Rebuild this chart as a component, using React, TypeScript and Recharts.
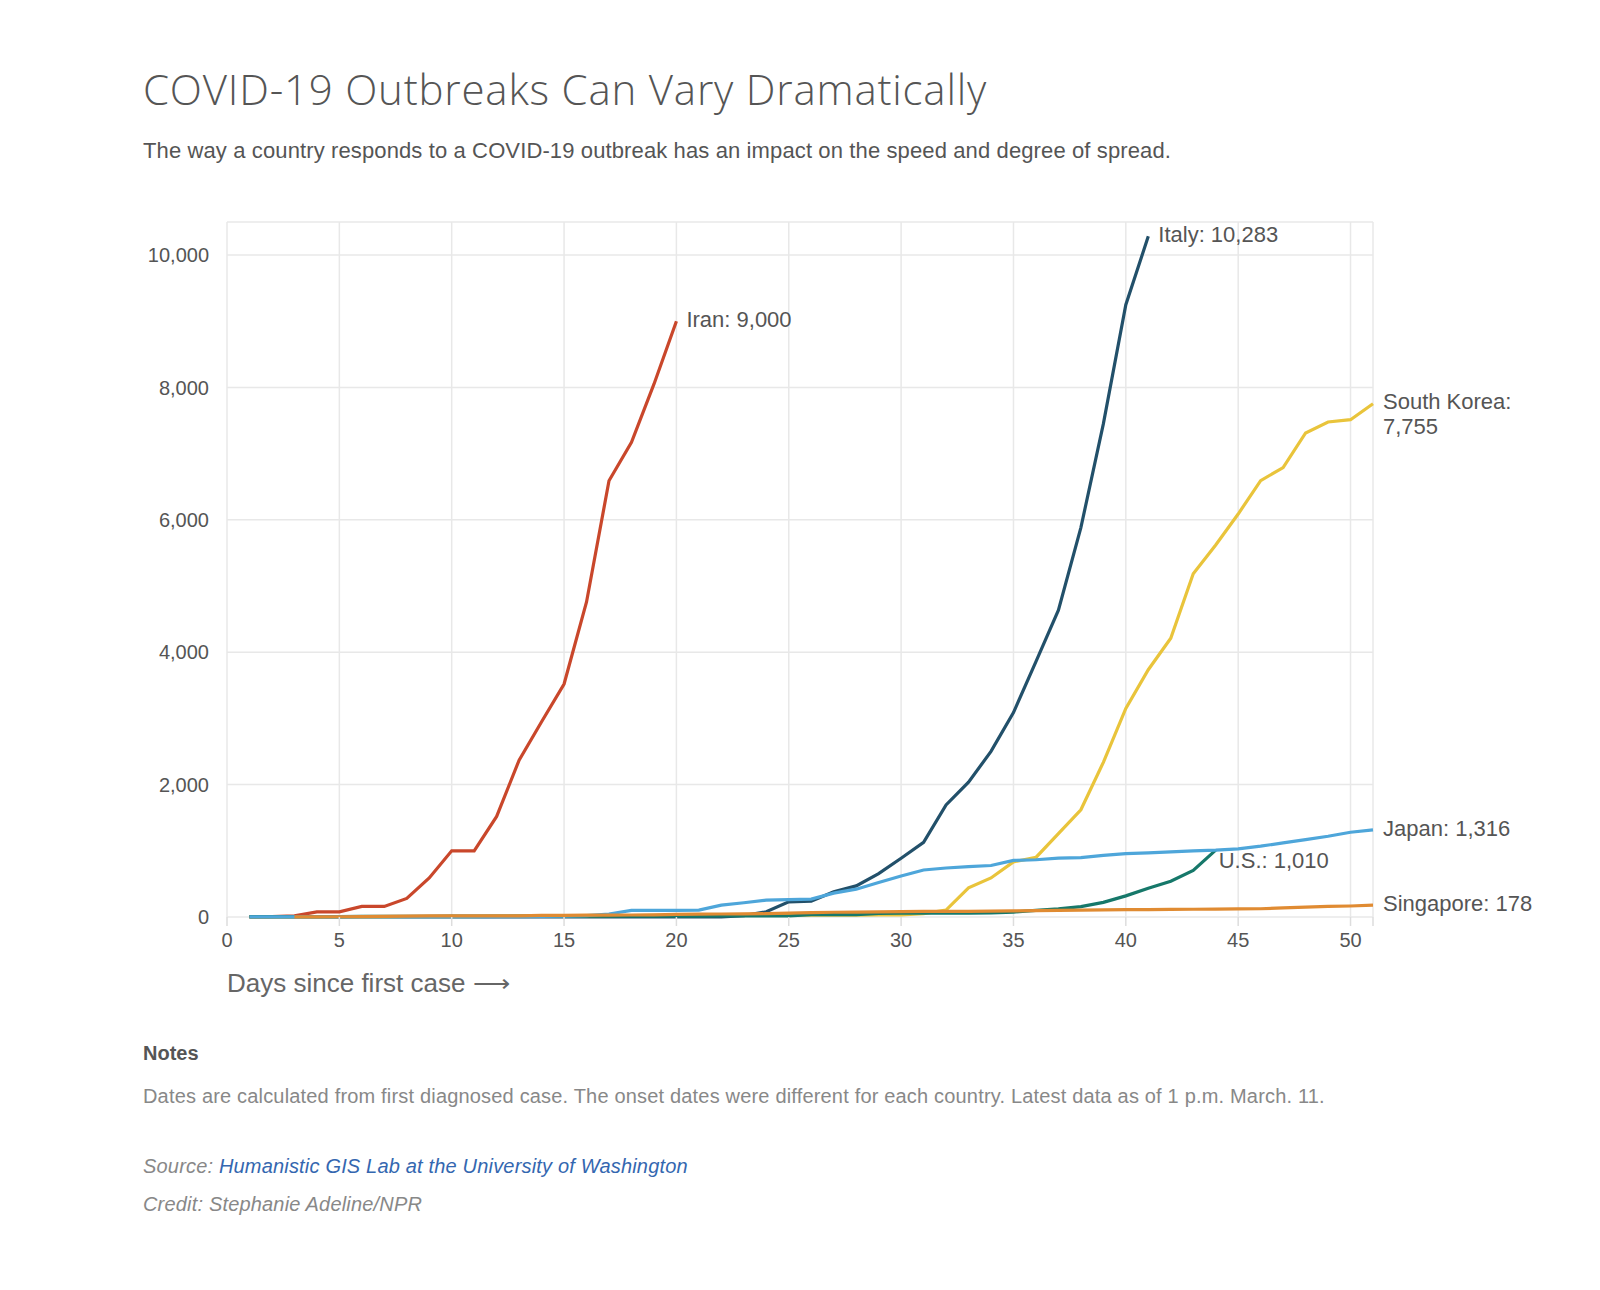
import React from "react";
import { LineChart, Line, XAxis, YAxis, CartesianGrid } from "recharts";

// day numbers since first case
const days = [
  1, 2, 3, 4, 5, 6, 7, 8, 9, 10, 11, 12, 13, 14, 15, 16, 17, 18, 19, 20, 21, 22, 23, 24, 25,
  26, 27, 28, 29, 30, 31, 32, 33, 34, 35, 36, 37, 38, 39, 40, 41, 42, 43, 44, 45, 46, 47, 48,
  49, 50, 51,
];

// cumulative cases, starting at day 1 (Singapore starts at day 3)
const iran = [2, 5, 18, 77, 77, 160, 160, 280, 590, 1000, 1000, 1520, 2370, 2950, 3520, 4760, 6590, 7170, 8050, 9000];
const italy = [
  2, 2, 2, 2, 2, 2, 2, 3, 3, 3, 3, 3, 3, 3, 3, 3, 3, 3, 3, 3, 3, 3, 20, 79, 229, 240, 380, 470,
  655, 888, 1128, 1694, 2036, 2502, 3089, 3858, 4636, 5883, 7450, 9250, 10283,
];
const southKorea = [
  1, 1, 1, 1, 2, 2, 3, 4, 4, 4, 6, 11, 12, 15, 15, 16, 19, 23, 24, 24, 25, 27, 28, 28, 28, 28,
  28, 29, 30, 31, 51, 104, 440, 590, 833, 900, 1261, 1620, 2337, 3150, 3736, 4212, 5186, 5621,
  6088, 6593, 6790, 7313, 7478, 7513, 7755,
];
const japan = [
  1, 1, 1, 1, 1, 1, 1, 1, 1, 2, 3, 4, 6, 8, 12, 20, 45, 100, 100, 100, 105, 180, 215, 255, 262,
  270, 360, 420, 520, 620, 710, 740, 760, 778, 855, 865, 890, 898, 930, 958, 970, 985, 998,
  1010, 1030, 1070, 1120, 1170, 1220, 1280, 1316,
];
const us = [
  5, 5, 5, 5, 6, 8, 11, 11, 11, 12, 12, 12, 12, 12, 13, 13, 13, 13, 13, 14, 14, 15, 15, 15, 15,
  35, 35, 35, 53, 57, 59, 60, 60, 62, 75, 100, 124, 158, 221, 319, 435, 541, 704, 1010,
];
const singapore = [
  null, null, 1, 3, 4, 7, 10, 13, 16, 18, 18, 18, 18, 24, 24, 28, 28, 30, 33, 40, 43, 45, 47,
  50, 58, 67, 72, 75, 77, 81, 84, 85, 86, 89, 93, 96, 100, 104, 108, 110, 112, 115, 117, 120,
  122, 125, 138, 150, 160, 166, 178,
];

const xTicks = [0, 5, 10, 15, 20, 25, 30, 35, 40, 45, 50, 51];
const yTicks = [0, 2000, 4000, 6000, 8000, 10000];

const data = days.map((d, i) => ({
  day: d,
  iran: iran[i] ?? null,
  italy: italy[i] ?? null,
  korea: southKorea[i] ?? null,
  japan: japan[i] ?? null,
  us: us[i] ?? null,
  singapore: singapore[i] ?? null,
}));

const fmt = (n: number) => n.toLocaleString("en-US");

const labelFont = "'Liberation Sans', Arial, sans-serif";

// draws the series name next to its last point
const endLabel =
  (lastIndex: number, lines: string[], dx: number, dy: number) => (props: any) => {
    if (props.index !== lastIndex) return <g key={props.index} />;
    return (
      <text
        key={props.index}
        x={props.x + dx}
        y={props.y + dy}
        fill="#555"
        fontSize={22}
        fontFamily={labelFont}
        dominantBaseline="middle"
      >
        {lines.map((t, k) => (
          <tspan key={k} x={props.x + dx} dy={k === 0 ? 0 : 25}>
            {t}
          </tspan>
        ))}
      </text>
    );
  };

const XTick = (props: any) => {
  const { x, y, payload } = props;
  if (payload.value === 51) return <g />;
  return (
    <text x={x} y={y} dy={15} textAnchor="middle" fill="#555" fontSize={20} fontFamily={labelFont}>
      {payload.value}
    </text>
  );
};

const small = { fontSize: 20, lineHeight: 1, letterSpacing: 0.18 };

export default function App() {
  return (
    <div
      style={{
        position: "relative",
        width: 1600,
        height: 1290,
        marginLeft: -8,
        marginTop: -8,
        background: "#fff",
        fontFamily: labelFont,
      }}
    >
      <div
        style={{
          position: "absolute",
          left: 143,
          top: 68,
          fontSize: 42,
          lineHeight: 1,
          letterSpacing: 0.8,
          color: "#555",
          fontFamily: "'Open Sans', sans-serif",
          fontWeight: 300,
        }}
      >
        COVID-19 Outbreaks Can Vary Dramatically
      </div>
      <div
        style={{
          position: "absolute",
          left: 143,
          top: 140,
          fontSize: 22,
          lineHeight: 1,
          letterSpacing: 0.12,
          color: "#555",
        }}
      >
        The way a country responds to a COVID-19 outbreak has an impact on the speed and degree of spread.
      </div>

      <div style={{ position: "absolute", left: 0, top: 0 }}>
        <LineChart
          width={1600}
          height={1000}
          data={data}
          margin={{ top: 222, right: 227, left: 147, bottom: 43 }}
        >
          <CartesianGrid stroke="#e8e8e8" strokeWidth={1.5} />
          <XAxis
            dataKey="day"
            type="number"
            domain={[0, 51]}
            ticks={xTicks}
            interval={0}
            axisLine={false}
            tickLine={{ stroke: "#ddd", strokeWidth: 1.5 }}
            tickSize={9}
            tickMargin={6}
            tick={<XTick />}
            height={40}
          />
          <YAxis
            type="number"
            domain={[0, 10500]}
            ticks={yTicks}
            interval={0}
            axisLine={false}
            tickLine={false}
            tickSize={8}
            tickMargin={10}
            tickFormatter={fmt}
            tick={{ fill: "#555", fontSize: 20, fontFamily: labelFont }}
            width={80}
          />
          <Line
            dataKey="iran"
            stroke="#c9472b"
            strokeWidth={3.2}
            dot={false}
            isAnimationActive={false}
            label={endLabel(iran.length - 1, ["Iran: " + fmt(9000)], 10, 0)}
          />
          <Line
            dataKey="italy"
            stroke="#22506a"
            strokeWidth={3.2}
            dot={false}
            isAnimationActive={false}
            label={endLabel(italy.length - 1, ["Italy: " + fmt(10283)], 10, 0)}
          />
          <Line
            dataKey="korea"
            stroke="#e9c43b"
            strokeWidth={3.2}
            dot={false}
            isAnimationActive={false}
            label={endLabel(southKorea.length - 1, ["South Korea:", fmt(7755)], 10, -1)}
          />
          <Line
            dataKey="us"
            stroke="#16786a"
            strokeWidth={3.2}
            dot={false}
            isAnimationActive={false}
            label={endLabel(us.length - 1, ["U.S.: " + fmt(1010)], 3, 12)}
          />
          <Line
            dataKey="japan"
            stroke="#4ea6da"
            strokeWidth={3.2}
            dot={false}
            isAnimationActive={false}
            label={endLabel(japan.length - 1, ["Japan: " + fmt(1316)], 10, 0)}
          />
          <Line
            dataKey="singapore"
            stroke="#e08b32"
            strokeWidth={3.2}
            dot={false}
            isAnimationActive={false}
            label={endLabel(singapore.length - 1, ["Singapore: " + fmt(178)], 10, 0)}
          />
        </LineChart>
      </div>

      <div style={{ position: "absolute", left: 227, top: 970, fontSize: 26, lineHeight: 1, color: "#666" }}>
        Days since first case ⟶
      </div>

      <div style={{ position: "absolute", left: 143, top: 1043, ...small, letterSpacing: 0, color: "#555", fontWeight: 700 }}>
        Notes
      </div>
      <div style={{ position: "absolute", left: 143, top: 1086, ...small, color: "#888" }}>
        Dates are calculated from first diagnosed case. The onset dates were different for each country. Latest data as of 1 p.m. March. 11.
      </div>
      <div style={{ position: "absolute", left: 143, top: 1156, ...small, color: "#888", fontStyle: "italic" }}>
        Source: <span style={{ color: "#3467b0" }}>Humanistic GIS Lab at the University of Washington</span>
      </div>
      <div style={{ position: "absolute", left: 143, top: 1194, ...small, color: "#888", fontStyle: "italic" }}>
        Credit: Stephanie Adeline/NPR
      </div>
    </div>
  );
}
